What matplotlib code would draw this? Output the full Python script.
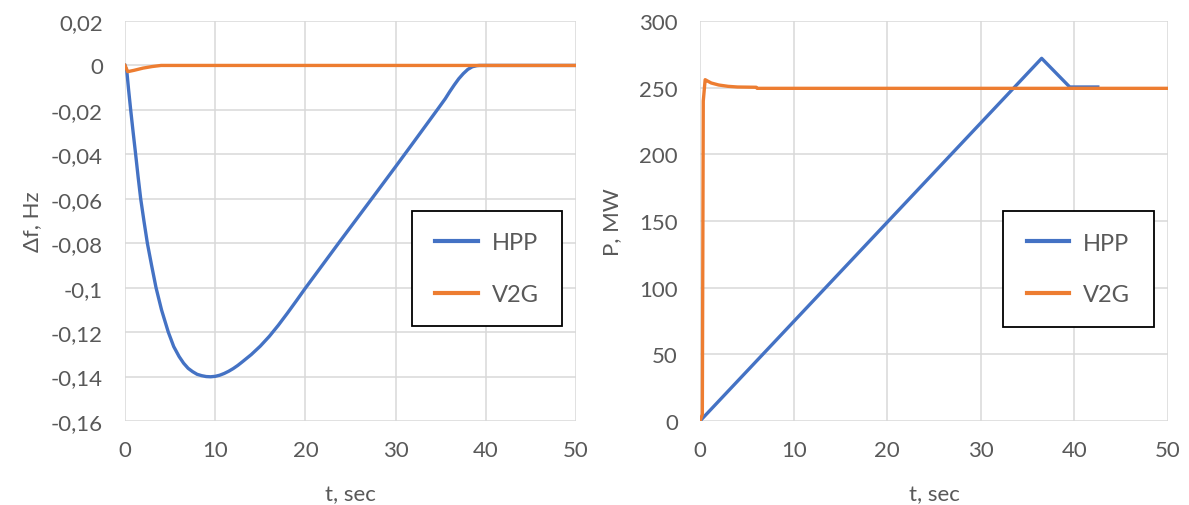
import matplotlib
matplotlib.use("Agg")
import matplotlib.pyplot as plt
from matplotlib.ticker import FuncFormatter, MultipleLocator
from matplotlib.patches import Rectangle

# ---- data ----
# Left panel: frequency deviation
df_hpp_t = [0, 0.2, 0.4, 0.63, 0.9, 1.18, 1.45, 1.74, 2.1, 2.48, 2.95, 3.44, 4.05, 4.8,
            5.4, 6.0, 6.5, 7.0, 7.5, 8.0, 8.5, 9.0, 9.5, 10.0, 10.5, 11.0, 11.5, 12.0,
            12.5, 13.0, 14.0, 15.0, 16.0, 17.0, 18.0, 19.0, 20.0, 21.0, 23.8, 27.5,
            30.1, 32.0, 34.7, 35.5, 36.0, 36.5, 37.0, 37.5, 38.0, 38.5, 39.0, 39.3, 50]
df_hpp_v = [0, -0.0025, -0.011, -0.020, -0.030, -0.040, -0.050, -0.060, -0.070, -0.080,
            -0.090, -0.100, -0.110, -0.120, -0.1265, -0.131, -0.134, -0.1363, -0.1378,
            -0.1390, -0.1396, -0.1400, -0.1401, -0.1399, -0.1394, -0.1386, -0.1376,
            -0.1364, -0.1350, -0.1334, -0.1301, -0.1263, -0.1219, -0.1169, -0.1115,
            -0.1059, -0.1002, -0.0947, -0.0793, -0.0592, -0.0450, -0.0345, -0.0195,
            -0.0150, -0.0118, -0.0088, -0.0060, -0.0037, -0.0018, -0.0006, -0.0001, 0, 0]
df_v2g_t = [0, 0.3, 1.0, 2.0, 3.0, 4.0, 50]
df_v2g_v = [0, -0.0028, -0.0022, -0.0012, -0.0005, 0, 0]

# Right panel: power
p_hpp_t = [0, 36.5, 39.5, 42.5]
p_hpp_v = [0, 272, 250.5, 250.5]
p_v2g_t = [0, 0.25, 0.35, 0.55, 0.8, 1.2, 2.0, 3.0, 4.0, 6.0, 6.1, 50]
p_v2g_v = [0, 5, 240, 256, 255, 253.5, 252, 251, 250.5, 250.3, 249.5, 249.5]

series_names = ["HPP", "V2G"]
xlabel_text = "t, sec"
ylabel_left = "\u0394f, Hz"
ylabel_right = "P, MW"

# ---- style ----
BLUE = "#4472C4"
ORANGE = "#ED7D31"
GREY = "#595959"
GRID = "#d9d9d9"
plt.rcParams['font.family'] = ['Lato', 'DejaVu Sans']

W, H = 1189, 506
fig = plt.figure(figsize=(W / 100, H / 100), dpi=100)
fig.patch.set_facecolor("white")

def px_ax(x0, x1, y0, y1):
    return fig.add_axes([x0 / W, 1 - y1 / H, (x1 - x0) / W, (y1 - y0) / H])

axL = px_ax(125, 576, 22, 422)
axR = px_ax(700, 1168, 22, 422)

def comma_fmt(v, pos):
    s = f"{round(v, 6):g}"
    if s == "-0":
        s = "0"
    return s.replace(".", ",")

def style(ax):
    for sp in ax.spines.values():
        sp.set_visible(False)
    ax.grid(True, color=GRID, lw=1.1)
    ax.set_axisbelow(True)
    ax.tick_params(length=0, labelsize=16, labelcolor=GREY)
    ax.tick_params(axis='x', pad=14)
    ax.tick_params(axis='y', pad=16)
    ax.set_xlim(0, 50)
    ax.xaxis.set_major_locator(MultipleLocator(10))

# Left panel
style(axL)
axL.set_ylim(-0.16, 0.02)
axL.yaxis.set_major_locator(MultipleLocator(0.02))
axL.yaxis.set_major_formatter(FuncFormatter(comma_fmt))
axL.plot(df_hpp_t, df_hpp_v, color=BLUE, lw=2.4, label=series_names[0], zorder=3,
         solid_joinstyle='round')
axL.plot(df_v2g_t, df_v2g_v, color=ORANGE, lw=2.4, label=series_names[1], zorder=4,
         solid_joinstyle='round')

# Right panel
style(axR)
axR.set_ylim(0, 300)
axR.yaxis.set_major_locator(MultipleLocator(50))
axR.plot(p_hpp_t, p_hpp_v, color=BLUE, lw=2.4, label=series_names[0], zorder=3,
         solid_joinstyle='round')
axR.plot(p_v2g_t, p_v2g_v, color=ORANGE, lw=2.4, label=series_names[1], zorder=4,
         solid_joinstyle='round')

# labels
for ax, yl, ylx in [(axL, ylabel_left, -0.206), (axR, ylabel_right, -0.188)]:
    ax.set_xlabel(xlabel_text, fontsize=16, color=GREY)
    ax.xaxis.set_label_coords(0.5, -0.182)
    ax.xaxis.label.set_va('center')
    ax.set_ylabel(yl, fontsize=16, color=GREY)
    ax.yaxis.set_label_coords(ylx, 0.5)
    ax.yaxis.label.set_va('center')

# legends with boxed frame
def boxed_legend(ax, x0, x1, y0, y1):
    ax_w = ax.get_position().width * W
    ax_h = ax.get_position().height * H
    ax_x0 = ax.get_position().x0 * W
    ax_ytop = (1 - ax.get_position().y1) * H
    bx0 = (x0 - ax_x0) / ax_w
    bx1 = (x1 - ax_x0) / ax_w
    by0 = 1 - (y1 - ax_ytop) / ax_h
    by1 = 1 - (y0 - ax_ytop) / ax_h
    rect = Rectangle((bx0, by0), bx1 - bx0, by1 - by0, transform=ax.transAxes,
                     facecolor="white", edgecolor="black", lw=1.3, zorder=5, clip_on=False)
    ax.add_patch(rect)
    leg = ax.legend(loc='center', bbox_to_anchor=((bx0 + bx1) / 2, (by0 + by1) / 2),
                    frameon=False, fontsize=17, labelcolor=GREY, handlelength=1.8,
                    handletextpad=0.6, labelspacing=1.3)
    leg.set_zorder(6)
    for line in leg.get_lines():
        line.set_linewidth(3)

boxed_legend(axL, 412, 562, 212, 327)
boxed_legend(axR, 1003, 1154, 212, 328)

fig.savefig("out.png", dpi=100, facecolor="white")
